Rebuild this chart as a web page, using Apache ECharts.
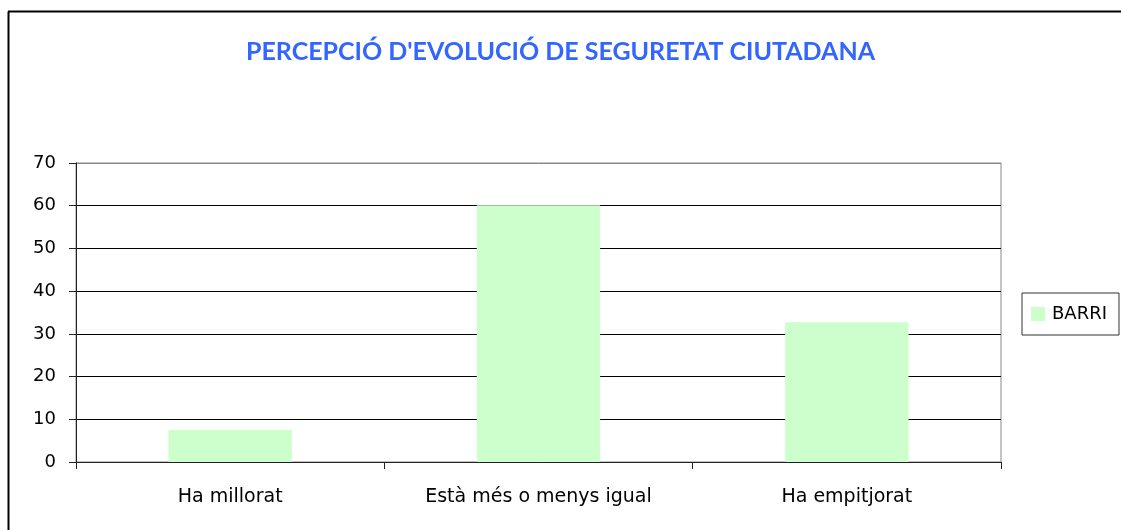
<!DOCTYPE html>
<html><head><meta charset="utf-8">
<script src="https://cdn.jsdelivr.net/npm/echarts@6/dist/echarts.min.js"></script>
<style>html,body{margin:0;padding:0;background:#fff}#c{width:1121px;height:530px}</style>
</head><body><div id="c"></div>
<script>
const titleText = "PERCEPCIÓ D'EVOLUCIÓ DE SEGURETAT CIUTADANA";
const categories = ["Ha millorat", "Està més o menys igual", "Ha empitjorat"];
const seriesName = "BARRI";
const values = [7.5, 60.1, 32.7];
const yMin = 0, yMax = 70, yStep = 10;

const chart = echarts.init(document.getElementById('c'), null, {renderer: 'canvas'});
const tfont = 'Lato, "Open Sans", sans-serif';
const font = '"DejaVu Sans", sans-serif';
chart.setOption({
  animation: false,
  backgroundColor: '#fff',
  title: {
    text: titleText, left: 'center', top: 34,
    textStyle: {color: '#3366FF', fontFamily: tfont, fontWeight: 'bold', fontSize: 25}
  },
  legend: {
    data: [seriesName], left: 1022, top: 293, orient: 'vertical',
    padding: [12, 12, 12, 9], itemWidth: 14, itemHeight: 14, itemGap: 5,
    borderColor: '#333', borderWidth: 1,
    icon: 'rect',
    textStyle: {fontFamily: font, fontSize: 18, color: '#000', padding: [2, 0, 0, 2]}
  },
  grid: {left: 76, top: 163, right: 120, bottom: 68, show: true, borderColor: '#888', borderWidth: 1},
  xAxis: {
    type: 'category', data: categories,
    axisLine: {lineStyle: {color: '#222', width: 1}},
    axisTick: {show: true, length: 7, inside: false, lineStyle: {color: '#222'}},
    axisLabel: {margin: 26, color: '#000', fontFamily: font, fontSize: 19},
    splitLine: {show: false}
  },
  yAxis: {
    type: 'value', min: yMin, max: yMax, interval: yStep,
    axisLine: {show: true, lineStyle: {color: '#222', width: 1}},
    axisTick: {show: true, length: 7, lineStyle: {color: '#222'}},
    axisLabel: {margin: 20, color: '#000', fontFamily: font, fontSize: 18, padding: [4, 0, 0, 0]},
    splitLine: {show: true, lineStyle: {color: ['#000','#000','#000','#000','#000','#000','#000','#888'], width: 1}}
  },
  series: [{
    name: seriesName, type: 'bar', data: values,
    barCategoryGap: '60%',
    itemStyle: {color: '#CCFFCC'}
  }],
  graphic: [
    {type: 'line', shape: {x1: 8.5, y1: 11.5, x2: 8.5, y2: 530}, style: {stroke: '#000', lineWidth: 2}},
    {type: 'line', shape: {x1: 8, y1: 11.5, x2: 1121, y2: 11.5}, style: {stroke: '#000', lineWidth: 2}}
  ]
});
</script></body></html>
